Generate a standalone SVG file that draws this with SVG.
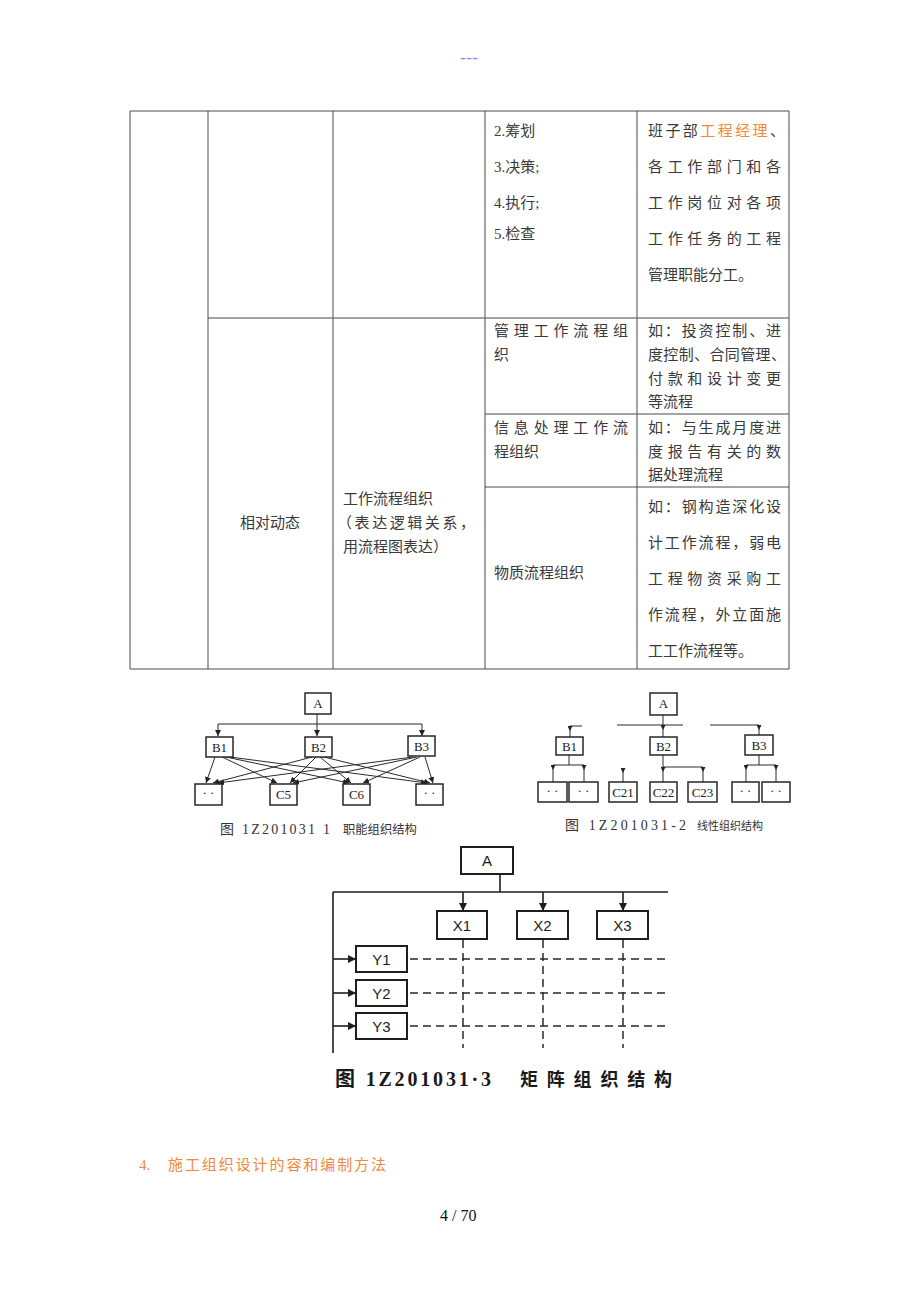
<svg xmlns="http://www.w3.org/2000/svg" width="920" height="1302" viewBox="0 0 920 1302">
<style>
.t{font-family:"Liberation Serif","Noto Sans CJK SC",serif;font-size:15px;fill:#3a3a3a}
.or{fill:#f08a3c}
.grid{stroke:#4a4a4a;stroke-width:1;fill:none}
.bx{fill:#fff;stroke:#262626;stroke-width:1.5}
.bx3{fill:#fff;stroke:#1e1e1e;stroke-width:2}
.ln{stroke:#2a2a2a;stroke-width:1;fill:none}
.ln3{stroke:#1e1e1e;stroke-width:1.6;fill:none}
.dash{stroke:#2a2a2a;stroke-width:1.5;fill:none;stroke-dasharray:8 5}
.lb{font-family:"Liberation Serif",serif;font-size:13px;fill:#222;text-anchor:middle}
.dots{font-family:"Liberation Serif",serif;font-size:13px;fill:#222;text-anchor:middle}
.lb3{font-family:"Liberation Sans",sans-serif;font-size:15px;fill:#1e1e1e;text-anchor:middle}
.cap{font-family:"Liberation Serif","Noto Sans CJK SC",serif;fill:#333}
.cap3{font-family:"Liberation Serif","Noto Sans CJK SC",serif;fill:#1a1a1a;font-weight:600}
</style>
<defs>
<marker id="ah" viewBox="0 0 6 6" markerWidth="6" markerHeight="6" refX="6" refY="3" orient="auto" markerUnits="userSpaceOnUse"><path d="M0,0 L6,3 L0,6 z" fill="#222"/></marker>
<marker id="as" viewBox="0 0 6 6" markerWidth="5" markerHeight="5" refX="0" refY="3" orient="auto" markerUnits="userSpaceOnUse"><path d="M0,0 L6,3 L0,6 z" fill="#222"/></marker>
<marker id="ah3" viewBox="0 0 8 8" markerWidth="8" markerHeight="8" refX="8" refY="4" orient="auto" markerUnits="userSpaceOnUse"><path d="M0,0 L8,4 L0,8 z" fill="#1e1e1e"/></marker>
</defs>
<rect width="920" height="1302" fill="#fff"/>
<text x="469" y="63" font-family="Liberation Sans, sans-serif" font-size="16" fill="#8080ff" text-anchor="middle" textLength="18" lengthAdjust="spacingAndGlyphs">---</text>

<g id="table">
<path class="grid" d="M130,111 H789 V669 H130 Z M208,111 V669 M333,111 V669 M485,111 V669 M637,111 V669 M208,318 H789 M485,414 H789 M485,487 H789"/>
<text class="t" x="494" y="136">2.筹划</text>
<text class="t" x="494" y="172">3.决策;</text>
<text class="t" x="494" y="208">4.执行;</text>
<text class="t" x="494" y="239">5.检查</text>
<text class="t" x="648" y="136" textLength="137" lengthAdjust="spacing">班子部<tspan class="or">工程经理</tspan>、</text>
<text class="t" x="648" y="172" textLength="133" lengthAdjust="spacing">各工作部门和各</text>
<text class="t" x="648" y="208" textLength="133" lengthAdjust="spacing">工作岗位对各项</text>
<text class="t" x="648" y="244" textLength="133" lengthAdjust="spacing">工作任务的工程</text>
<text class="t" x="648" y="280">管理职能分工。</text>

<text class="t" x="494" y="336" textLength="134" lengthAdjust="spacing">管理工作流程组</text>
<text class="t" x="494" y="360">织</text>
<text class="t" x="648" y="336" textLength="133" lengthAdjust="spacing">如：投资控制、进</text>
<text class="t" x="648" y="360" textLength="138" lengthAdjust="spacing">度控制、合同管理、</text>
<text class="t" x="648" y="384" textLength="133" lengthAdjust="spacing">付款和设计变更</text>
<text class="t" x="648" y="407">等流程</text>

<text class="t" x="494" y="433" textLength="134" lengthAdjust="spacing">信息处理工作流</text>
<text class="t" x="494" y="457">程组织</text>
<text class="t" x="648" y="433" textLength="133" lengthAdjust="spacing">如：与生成月度进</text>
<text class="t" x="648" y="457" textLength="133" lengthAdjust="spacing">度报告有关的数</text>
<text class="t" x="648" y="480">据处理流程</text>

<text class="t" x="240" y="528">相对动态</text>
<text class="t" x="343" y="504">工作流程组织</text>
<text class="t" x="337" y="528" textLength="138" lengthAdjust="spacing">（表达逻辑关系，</text>
<text class="t" x="343" y="552">用流程图表达）</text>
<text class="t" x="494" y="578">物质流程组织</text>
<text class="t" x="648" y="512" textLength="133" lengthAdjust="spacing">如：钢构造深化设</text>
<text class="t" x="648" y="548" textLength="133" lengthAdjust="spacing">计工作流程，弱电</text>
<text class="t" x="648" y="584" textLength="133" lengthAdjust="spacing">工程物资采购工</text>
<text class="t" x="648" y="620" textLength="133" lengthAdjust="spacing">作流程，外立面施</text>
<text class="t" x="648" y="656">工工作流程等。</text>
</g>

<!-- Figure 1: functional -->
<g id="fig1-connectors">
<path class="ln" d="M218,724 H422"/>
<path class="ln" d="M317,714 V736" marker-end="url(#ah)"/>
<path class="ln" d="M218,724 V736" marker-end="url(#ah)"/>
<path class="ln" d="M422,724 V736" marker-end="url(#ah)"/>
<path class="ln" d="M215,757 L206,783" marker-end="url(#ah)"/>
<path class="ln" d="M222,757 L277,783" marker-end="url(#ah)"/>
<path class="ln" d="M226,757 L349,783" marker-end="url(#ah)"/>
<path class="ln" d="M230,757 L427,783" marker-end="url(#ah)"/>
<path class="ln" d="M312,757 L213,783" marker-end="url(#ah)"/>
<path class="ln" d="M316,757 L290,783" marker-end="url(#ah)"/>
<path class="ln" d="M320,757 L351,783" marker-end="url(#ah)"/>
<path class="ln" d="M324,757 L430,783" marker-end="url(#ah)"/>
<path class="ln" d="M413,757 L218,783" marker-end="url(#ah)"/>
<path class="ln" d="M417,757 L293,783" marker-end="url(#ah)"/>
<path class="ln" d="M420,757 L363,783" marker-end="url(#ah)"/>
<path class="ln" d="M425,757 L433,783" marker-end="url(#ah)"/>
</g>
<g id="f1-A"><rect class="bx" x="305" y="693" width="26" height="21"/><text class="lb" x="318" y="708">A</text></g>
<g id="f1-B1"><rect class="bx" x="206" y="737" width="27" height="20"/><text class="lb" x="219.5" y="752">B1</text></g>
<g id="f1-B2"><rect class="bx" x="305" y="737" width="27" height="20"/><text class="lb" x="318.5" y="752">B2</text></g>
<g id="f1-B3"><rect class="bx" x="408" y="736" width="27" height="20"/><text class="lb" x="421.5" y="751">B3</text></g>
<g id="f1-C1"><rect class="bx" x="195" y="784" width="27" height="21"/><text class="dots" x="208.5" y="797">· ·</text></g>
<g id="f1-C5"><rect class="bx" x="270" y="784" width="27" height="21"/><text class="lb" x="283.5" y="799">C5</text></g>
<g id="f1-C6"><rect class="bx" x="343" y="784" width="27" height="21"/><text class="lb" x="356.5" y="799">C6</text></g>
<g id="f1-C4"><rect class="bx" x="416" y="784" width="27" height="21"/><text class="dots" x="429.5" y="797">· ·</text></g>
<text class="cap" x="220" y="834" style="font-size:14px" textLength="110" lengthAdjust="spacing">图 1Z201031 1</text>
<text class="cap" x="343" y="834" style="font-size:12.3px">职能组织结构</text>

<!-- Figure 2: linear -->
<g id="fig2-connectors">
<path class="ln" d="M617,725 H683 M663,715 V725"/>
<path class="ln" d="M663,725 V737" marker-start="url(#as)"/>
<path class="ln" d="M710,725 H759"/>
<path class="ln" d="M759,725 V735" marker-start="url(#as)"/>
<path class="ln" d="M582,726 H570"/>
<path class="ln" d="M570,726 V737" marker-start="url(#as)"/>
<path class="ln" d="M569,755 V765 M553,765 H584"/>
<path class="ln" d="M553,765 V782" marker-start="url(#as)"/>
<path class="ln" d="M584,765 V782" marker-start="url(#as)"/>
<path class="ln" d="M623,768 V782" marker-start="url(#as)"/>
<path class="ln" d="M663,755 V767 H703"/>
<path class="ln" d="M663,767 V782" marker-start="url(#as)"/>
<path class="ln" d="M703,767 V782" marker-start="url(#as)"/>
<path class="ln" d="M759,755 V765 M746,765 H776"/>
<path class="ln" d="M746,765 V782" marker-start="url(#as)"/>
<path class="ln" d="M776,765 V782" marker-start="url(#as)"/>
</g>
<g id="f2-A"><rect class="bx" x="650" y="693" width="27" height="22"/><text class="lb" x="663.5" y="708">A</text></g>
<g id="f2-B1"><rect class="bx" x="556" y="737" width="27" height="18"/><text class="lb" x="569.5" y="751">B1</text></g>
<g id="f2-B2"><rect class="bx" x="650" y="737" width="27" height="18"/><text class="lb" x="663.5" y="751">B2</text></g>
<g id="f2-B3"><rect class="bx" x="745" y="735" width="28" height="20"/><text class="lb" x="759" y="750">B3</text></g>
<g id="f2-C11"><rect class="bx" x="538" y="782" width="29" height="20"/><text class="dots" x="552.5" y="795">· ·</text></g>
<g id="f2-C12"><rect class="bx" x="569" y="782" width="29" height="20"/><text class="dots" x="583.5" y="795">· ·</text></g>
<g id="f2-C21"><rect class="bx" x="609" y="782" width="28" height="20"/><text class="lb" x="623" y="797">C21</text></g>
<g id="f2-C22"><rect class="bx" x="650" y="782" width="27" height="20"/><text class="lb" x="663.5" y="797">C22</text></g>
<g id="f2-C23"><rect class="bx" x="688" y="782" width="29" height="20"/><text class="lb" x="702.5" y="797">C23</text></g>
<g id="f2-C31"><rect class="bx" x="732" y="782" width="27" height="20"/><text class="dots" x="745.5" y="795">· ·</text></g>
<g id="f2-C32"><rect class="bx" x="762" y="782" width="28" height="20"/><text class="dots" x="776" y="795">· ·</text></g>
<text class="cap" x="565" y="830" style="font-size:14px" textLength="121" lengthAdjust="spacing">图 1Z201031-2</text>
<text class="cap" x="697" y="830" style="font-size:11px">线性组织结构</text>

<!-- Figure 3: matrix -->
<g id="fig3-connectors">
<path class="ln3" d="M500,874 V892 M333,892 H668 M333,892 V1053"/>
<path class="ln3" d="M463,892 V911" marker-end="url(#ah3)"/>
<path class="ln3" d="M543,892 V911" marker-end="url(#ah3)"/>
<path class="ln3" d="M623,892 V911" marker-end="url(#ah3)"/>
<path class="ln3" d="M333,959 H356" marker-end="url(#ah3)"/>
<path class="ln3" d="M333,993 H356" marker-end="url(#ah3)"/>
<path class="ln3" d="M333,1026 H356" marker-end="url(#ah3)"/>
<path class="dash" d="M410,959 H668 M410,993 H668 M410,1026 H668"/>
<path class="dash" d="M463,940 V1048 M543,940 V1048 M623,940 V1048"/>
</g>
<g id="f3-A"><rect class="bx3" x="461" y="847" width="52" height="27"/><text class="lb3" x="487" y="866">A</text></g>
<g id="f3-X1"><rect class="bx3" x="437" y="911" width="50" height="28"/><text class="lb3" x="462" y="931">X1</text></g>
<g id="f3-X2"><rect class="bx3" x="517" y="911" width="51" height="28"/><text class="lb3" x="542.5" y="931">X2</text></g>
<g id="f3-X3"><rect class="bx3" x="597" y="911" width="51" height="28"/><text class="lb3" x="622.5" y="931">X3</text></g>
<g id="f3-Y1"><rect class="bx3" x="356" y="946" width="51" height="26"/><text class="lb3" x="381.5" y="965">Y1</text></g>
<g id="f3-Y2"><rect class="bx3" x="356" y="980" width="51" height="26"/><text class="lb3" x="381.5" y="999">Y2</text></g>
<g id="f3-Y3"><rect class="bx3" x="356" y="1013" width="51" height="26"/><text class="lb3" x="381.5" y="1032">Y3</text></g>
<text class="cap3" x="335" y="1086" style="font-size:20px" textLength="156" lengthAdjust="spacing">图 1Z201031·3</text>
<text class="cap3" x="520" y="1086" style="font-size:18px" textLength="152" lengthAdjust="spacing">矩阵组织结构</text>

<text x="139" y="1170" font-family="Liberation Serif, Noto Sans CJK SC, serif" font-size="15" fill="#f08a3c">4.</text>
<text x="168" y="1170" font-family="Liberation Serif, Noto Sans CJK SC, serif" font-size="15" fill="#f08a3c" textLength="218" lengthAdjust="spacing">施工组织设计的容和编制方法</text>
<text x="440" y="1221" font-family="Liberation Serif, serif" font-size="16" fill="#111">4  / 70</text>
</svg>
